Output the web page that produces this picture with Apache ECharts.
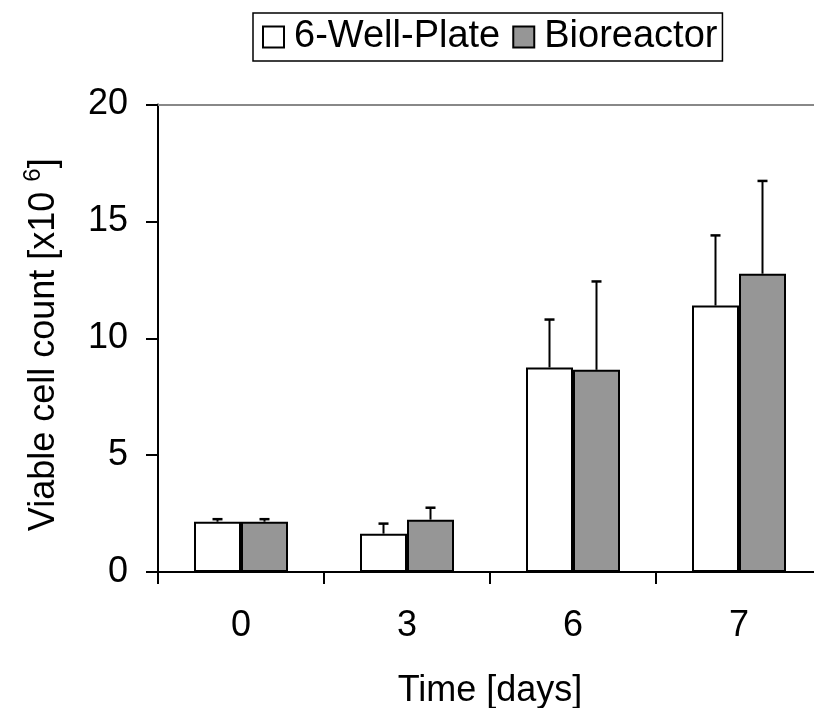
<!DOCTYPE html>
<html>
<head>
<meta charset="utf-8">
<script src="https://cdn.jsdelivr.net/npm/echarts@6/dist/echarts.min.js"></script>
<style>
html,body{margin:0;padding:0;background:#fff;}
#chart{width:814px;height:708px;}
</style>
</head>
<body>
<div id="chart"></div>
<script>
// ---- data ----
const categories = ['0', '3', '6', '7'];
const seriesNames = ['6-Well-Plate', 'Bioreactor'];
const wellPlate = [2.15, 1.64, 8.75, 11.4];
const wellPlateErr = [0.11, 0.43, 2.05, 3.0];
const bioreactor = [2.15, 2.24, 8.65, 12.76];
const bioreactorErr = [0.11, 0.51, 3.78, 3.97];
const yTicks = [0, 5, 10, 15, 20];

const FONT = "'Liberation Sans', Arial, sans-serif";
const BAR_W = 47;

function errData(vals, errs) {
  return vals.map((v, i) => [i, v, errs[i]]);
}

function errRender(offset) {
  return function (params, api) {
    const c = api.value(0), v = api.value(1), e = api.value(2);
    const p0 = api.coord([c, v]);
    const p1 = api.coord([c, v + e]);
    const x = p0[0] + offset;
    return {
      type: 'group',
      children: [
        {type: 'line', shape: {x1: x, y1: p0[1], x2: x, y2: p1[1]}, style: {stroke: '#000', lineWidth: 2}},
        {type: 'line', shape: {x1: x - 5, y1: p1[1], x2: x + 5, y2: p1[1]}, style: {stroke: '#000', lineWidth: 2.5}}
      ]
    };
  };
}

const chart = echarts.init(document.getElementById('chart'));
chart.setOption({
  animation: false,
  textStyle: {fontFamily: FONT, color: '#000'},
  legend: {
    data: seriesNames,
    left: 253, top: 13,
    padding: [5, 5, 5, 9],
    borderColor: '#000', borderWidth: 1.5,
    itemWidth: 21, itemHeight: 21, itemGap: 12,
    icon: 'rect',
    textStyle: {fontSize: 38, fontFamily: FONT, color: '#000', padding: [0, 0, 0, 5]}
  },
  grid: {left: 158, right: -8, top: 104.5, bottom: 136, containLabel: false, outerBoundsMode: 'none'},
  xAxis: [{
    type: 'category',
    data: categories,
    position: 'bottom',
    axisLine: {lineStyle: {color: '#000', width: 2}},
    axisTick: {show: true, length: 12, lineStyle: {color: '#000', width: 2}},
    axisLabel: {fontSize: 36, color: '#000', fontFamily: FONT, margin: 36},
    name: 'Time [days]',
    nameLocation: 'middle',
    nameGap: 101,
    nameTextStyle: {fontSize: 36, color: '#000', fontFamily: FONT}
  }, {
    type: 'category',
    data: categories,
    position: 'top',
    axisLine: {lineStyle: {color: '#888', width: 2}},
    axisTick: {show: false},
    axisLabel: {show: false}
  }],
  yAxis: {
    type: 'value',
    min: yTicks[0], max: yTicks[yTicks.length - 1], interval: 5,
    axisLine: {show: true, lineStyle: {color: '#000', width: 2}},
    axisTick: {show: true, length: 12, lineStyle: {color: '#000', width: 2}},
    splitLine: {show: false},
    axisLabel: {fontSize: 36, color: '#000', fontFamily: FONT, margin: 30},
    name: 'Viable cell count [x10 {sup|6}]',
    nameLocation: 'middle',
    nameGap: 91,
    nameRotate: 90,
    nameTextStyle: {
      fontSize: 36, color: '#000', fontFamily: FONT,
      padding: [0, 13, 0, 0],
      rich: {sup: {fontSize: 24, fontFamily: FONT, color: '#000', padding: [0, 0, 22, 0]}}
    }
  },
  series: [{
    name: seriesNames[0], type: 'bar', data: wellPlate, barWidth: BAR_W, barGap: '0%',
    itemStyle: {color: '#ffffff', borderColor: '#000', borderWidth: 2}
  }, {
    name: seriesNames[1], type: 'bar', data: bioreactor, barWidth: BAR_W, barGap: '0%',
    itemStyle: {color: '#969696', borderColor: '#000', borderWidth: 2}
  }, {
    name: 'err1', type: 'custom', renderItem: errRender(-BAR_W / 2), data: errData(wellPlate, wellPlateErr), z: 5
  }, {
    name: 'err2', type: 'custom', renderItem: errRender(BAR_W / 2), data: errData(bioreactor, bioreactorErr), z: 5
  }]
});
</script>
</body>
</html>
